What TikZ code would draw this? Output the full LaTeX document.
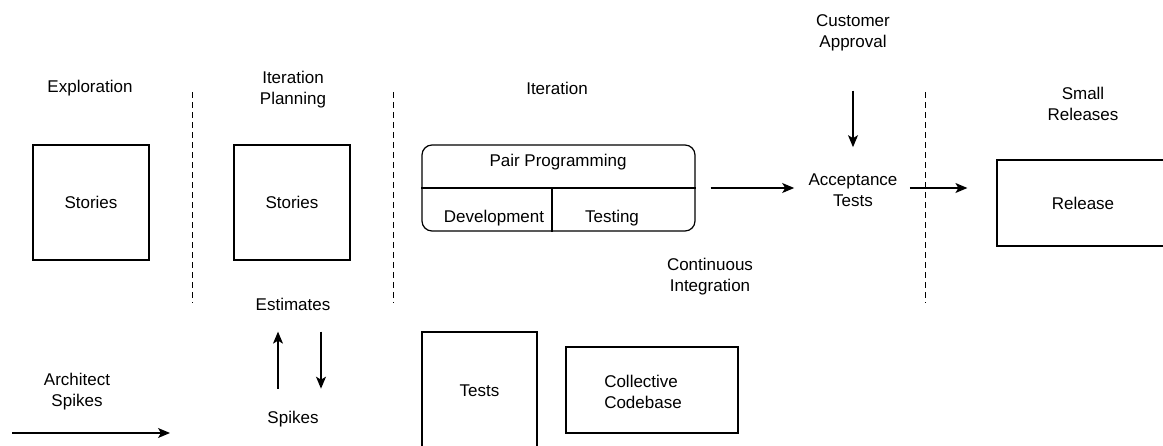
\documentclass[tikz,border=0pt]{standalone}
\usepackage{fontspec}
\setmainfont{Liberation Sans}
\usetikzlibrary{arrows.meta,positioning}

\begin{document}
\begin{tikzpicture}[x=0.5pt, y=-0.5pt,
    every node/.style={font=\fontsize{8.5pt}{10.5pt}\selectfont, align=center, inner sep=0pt},
    box/.style={draw, line width=0.6pt},
    arr/.style={-{Stealth[length=6pt,width=5pt,inset=1.5pt]}, line width=0.6pt},
    phase/.style={dash pattern=on 3pt off 2pt, line width=0.5pt}]
    \useasboundingbox (0,0) rectangle (1163,445);
    \clip (0,0) rectangle (1163,445);

    % Phase titles
    \node (expl) at (90,88) {Exploration};
    \node (plan) at (293,90) {Iteration\\Planning};
    \node (iter) at (557,88) {Iteration};
    \node (cust) at (853,33) {Customer\\Approval};
    \node (small) at (1083,104) {Small\\Releases};

    % Phase separators
    \foreach \x in {192,393,925}
        \draw[phase] (\x,92) -- (\x,303);

    % Boxes
    \node[box, minimum width=58pt, minimum height=57.5pt] (stor1) at (91,202.5) {Stories};
    \node[box, minimum width=58pt, minimum height=57.5pt] (stor2) at (292,202.5) {Stories};
    \node[box, rounded corners=5pt, minimum width=136.5pt, minimum height=43pt] (pair) at (558.5,188) {};
    \node[box, minimum width=86pt, minimum height=43pt] (rel) at (1083,203) {Release};
    \node[box, minimum width=57.5pt, minimum height=59pt] (tests) at (479.5,391) {Tests};
    \node[box, minimum width=86pt, minimum height=43pt] (code) at (652,390) {};
    \node[align=left] (codetxt) at (643,392) {Collective\\Codebase};

    % Pair programming parts
    \node (pp) at (558,162) {Pair Programming};
    \node (dev) at (494,218) {Development};
    \node (tst) at (612,218) {Testing};
    \coordinate (split) at (552,188);
    \draw[line width=0.6pt] (pair.west) -- (pair.east);
    \draw[line width=0.6pt] (split) -- (split |- pair.south);

    % Other labels
    \node (acc) at (853,190) {Acceptance\\Tests};
    \node (ci) at (710,277) {Continuous\\Integration};
    \node (est) at (293,304) {Estimates};
    \node (spk) at (293,419) {Spikes};
    \node (arch) at (77,392) {Architect\\Spikes};
    \coordinate (archa) at (12,433);
    \coordinate (archb) at (170,433);

    % Arrows
    \draw[arr, shorten <=7.5pt, shorten >=7pt] (pair.east) -- (pair.east -| acc.west);
    \draw[arr, shorten <=6pt, shorten >=14.5pt] (pair.east -| acc.east) -- (pair.east -| rel.west);
    \draw[arr, shorten <=19.5pt, shorten >=13pt] (cust.south) -- (acc.north);
    \draw[arr, shorten <=11pt, shorten >=10.5pt] ([xshift=-7.5pt]spk.north) -- ([xshift=-7.5pt]est.south);
    \draw[arr, shorten <=10.5pt, shorten >=11pt] ([xshift=14pt]est.south) -- ([xshift=14pt]spk.north);
    \draw[arr] (archa) -- (archb);
\end{tikzpicture}
\end{document}
